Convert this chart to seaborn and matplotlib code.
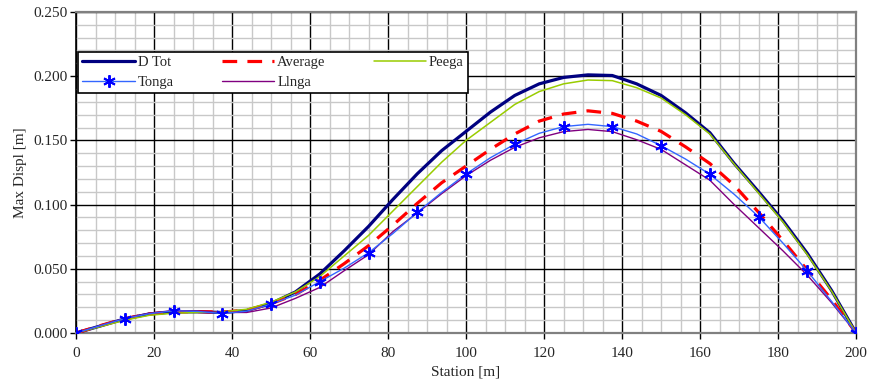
import numpy as np
import pandas as pd
import matplotlib
matplotlib.use("Agg")
import matplotlib.pyplot as plt
from matplotlib.ticker import MultipleLocator, FormatStrFormatter
import seaborn as sns

# Stations along the span [m]
station = [0, 6.25, 12.5, 18.75, 25, 31.25, 37.5, 43.75, 50, 56.25, 62.5, 68.75,
           75, 81.25, 87.5, 93.75, 100, 106.25, 112.5, 118.75, 125, 131.25, 137.5,
           143.75, 150, 156.25, 162.5, 168.75, 175, 181.25, 187.5, 193.75, 200]

# Maximum displacement per load case [m]
d_tot = [0, 0.0055, 0.0110, 0.0148, 0.0165, 0.0165, 0.0160, 0.0175, 0.0230, 0.0320,
         0.0460, 0.0640, 0.0830, 0.1040, 0.1240, 0.1420, 0.1570, 0.1720, 0.1850,
         0.1940, 0.1990, 0.2010, 0.2005, 0.1940, 0.1850, 0.1715, 0.1560, 0.1320,
         0.1100, 0.0875, 0.0620, 0.0330, 0]
average = [0, 0.0058, 0.0112, 0.0148, 0.0165, 0.0167, 0.0163, 0.0178, 0.0228, 0.0300,
           0.0410, 0.0540, 0.0680, 0.0840, 0.1010, 0.1170, 0.1300, 0.1430, 0.1550,
           0.1650, 0.1705, 0.1730, 0.1710, 0.1650, 0.1570, 0.1450, 0.1320, 0.1150,
           0.0940, 0.0720, 0.0490, 0.0260, 0]
peega = [0, 0.0050, 0.0100, 0.0138, 0.0155, 0.0160, 0.0165, 0.0185, 0.0240, 0.0320,
         0.0440, 0.0600, 0.0760, 0.0950, 0.1140, 0.1330, 0.1500, 0.1640, 0.1780,
         0.1880, 0.1940, 0.1970, 0.1965, 0.1910, 0.1830, 0.1700, 0.1550, 0.1315,
         0.1090, 0.0865, 0.0610, 0.0325, 0]
tonga = [0, 0.0058, 0.0113, 0.0150, 0.0173, 0.0168, 0.0152, 0.0170, 0.0225, 0.0295,
         0.0400, 0.0505, 0.0625, 0.0775, 0.0940, 0.1095, 0.1238, 0.1365, 0.1470,
         0.1555, 0.1607, 0.1625, 0.1607, 0.1550, 0.1459, 0.1355, 0.1236, 0.1080,
         0.0906, 0.0700, 0.0483, 0.0245, 0]
llnga = [0, 0.0058, 0.0115, 0.0155, 0.0175, 0.0172, 0.0160, 0.0160, 0.0195, 0.0270,
         0.0355, 0.0485, 0.0610, 0.0790, 0.0935, 0.1085, 0.1225, 0.1345, 0.1446,
         0.1520, 0.1568, 0.1585, 0.1568, 0.1505, 0.1430, 0.1310, 0.1190, 0.1000,
         0.0820, 0.0640, 0.0450, 0.0235, 0]

sns.set_style("white")
plt.rcParams["font.family"] = ["Liberation Serif", "DejaVu Serif"]

fig = plt.figure(figsize=(8.7, 3.85), dpi=100)
ax = fig.add_axes([0.0874, 0.135, 0.8966, 0.834])

asterisk = (6, 2, 0)
sns.lineplot(x=station, y=d_tot, ax=ax, color="#000080", lw=2.3, label="D Tot",
             zorder=3)
sns.lineplot(x=station, y=average, ax=ax, color="#FF0000", lw=2.3, label="Average",
             zorder=4)
ax.lines[-1].set_dashes([4.6, 3.2])
sns.lineplot(x=station, y=peega, ax=ax, color="#99CC00", lw=1.1, label="Peega",
             zorder=5)
sns.lineplot(x=station, y=tonga, ax=ax, color="#3366FF", lw=1.0, label="Tonga",
             zorder=6)
tl = ax.lines[-1]
tl.set_marker(asterisk)
tl.set_markevery(2)
tl.set_markersize(9)
tl.set_markeredgewidth(1.4)
tl.set_markeredgecolor("#0000FF")
tl.set_markerfacecolor("#0000FF")
sns.lineplot(x=station, y=llnga, ax=ax, color="#800080", lw=1.0, label="Llnga",
             zorder=5)

ax.set_xlim(0, 200)
ax.set_ylim(0, 0.25)
ax.xaxis.set_major_locator(MultipleLocator(20))
ax.xaxis.set_minor_locator(MultipleLocator(5))
ax.yaxis.set_major_locator(MultipleLocator(0.05))
ax.yaxis.set_minor_locator(MultipleLocator(0.01))
ax.yaxis.set_major_formatter(FormatStrFormatter("%.3f"))

ax.grid(which="minor", color="#C8C8C8", lw=1.0, zorder=0)
ax.grid(which="major", color="#000000", lw=1.0, zorder=1)
ax.set_axisbelow(True)

for side in ["top", "right", "bottom"]:
    ax.spines[side].set_color("#808080")
    ax.spines[side].set_linewidth(1.6)
ax.spines["left"].set_color("#000000")
ax.spines["left"].set_linewidth(1.2)

ax.tick_params(which="major", direction="out", length=4, width=1,
               color="#000000", labelsize=11, bottom=True, left=True)
ax.tick_params(axis="x", which="major", pad=6)
ax.tick_params(axis="y", which="major", pad=2)
ax.tick_params(which="minor", length=0)

ax.set_xlabel("Station [m]", fontsize=11, labelpad=4)
ax.set_ylabel("Max Displ [m]", fontsize=11, labelpad=5)

handles, labels = ax.get_legend_handles_labels()
order = [labels.index(n) for n in ["D Tot", "Tonga", "Average", "Llnga", "Peega"]]
leg = ax.legend([handles[i] for i in order], [labels[i] for i in order],
                ncol=3, loc="upper left", mode="expand",
                bbox_to_anchor=(0.0026, 0.75, 0.5, 0.126),
                fontsize=10.5, frameon=True, fancybox=False, framealpha=1,
                edgecolor="#000000", handlelength=3.6, handletextpad=0.2,
                columnspacing=2.0, borderpad=0.3, labelspacing=0.45,
                borderaxespad=0)
leg.get_frame().set_linewidth(1.2)
leg.set_zorder(10)

fig.savefig("out.png", dpi=100)
